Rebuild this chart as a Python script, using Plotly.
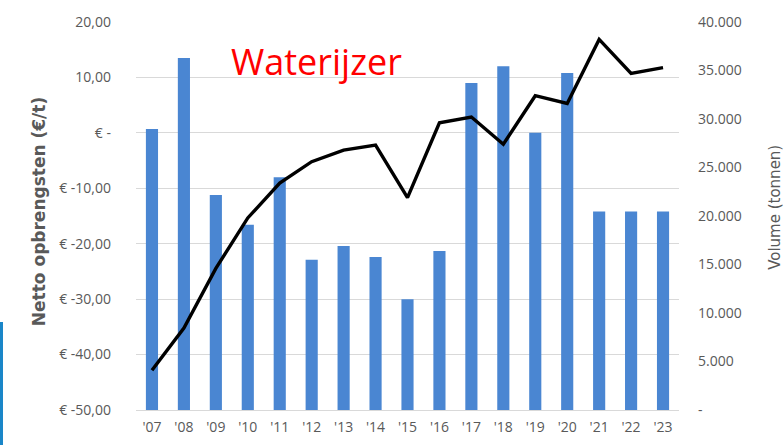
import plotly.graph_objects as go

years = ["'07", "'08", "'09", "'10", "'11", "'12", "'13", "'14", "'15", "'16",
         "'17", "'18", "'19", "'20", "'21", "'22", "'23"]
netto = [0.7, 13.5, -11.2, -16.6, -8.0, -22.9, -20.4, -22.4, -30.0, -21.3,
         9.0, 12.0, 0.0, 10.8, -14.2, -14.2, -14.2]
volume = [4100, 8450, 14600, 19800, 23400, 25600, 26800, 27300, 21900, 29600,
          30200, 27400, 32400, 31600, 38200, 34700, 35300]

left_ticks = [-50, -40, -30, -20, -10, 0, 10, 20]
left_text = ["€ -50,00", "€ -40,00", "€ -30,00", "€ -20,00", "€ -10,00", "€ -", "10,00", "20,00"]
right_ticks = [0, 5000, 10000, 15000, 20000, 25000, 30000, 35000, 40000]
right_text = ["-", "5.000", "10.000", "15.000", "20.000", "25.000", "30.000", "35.000", "40.000"]

base_val = left_ticks[0]
fig = go.Figure()
fig.add_trace(go.Bar(
    x=years, y=[v - base_val for v in netto], base=base_val,
    marker=dict(color="#4a86d2", line=dict(width=0)),
    name="Netto opbrengsten", customdata=netto,
    hovertemplate="%{x}: %{customdata}<extra></extra>",
))
fig.add_trace(go.Scatter(
    x=years, y=volume, yaxis="y2", mode="lines",
    line=dict(color="#000000", width=3.4), name="Volume",
))

tick_font = dict(family="Open Sans, sans-serif", size=14, color="#595959")
fig.update_layout(
    width=784, height=445,
    margin=dict(l=136, r=105, t=22, b=35),
    paper_bgcolor="white", plot_bgcolor="white",
    showlegend=False, bargap=0.62,
    xaxis=dict(showgrid=False, showline=True, linecolor="#d9d9d9", linewidth=1,
               tickfont=tick_font, ticks="", ticklabelstandoff=4, automargin=False),
    yaxis=dict(range=[-50, 20], tickvals=left_ticks, ticktext=left_text,
               showgrid=True, gridcolor="#d9d9d9", gridwidth=1, zeroline=False,
               tickfont=tick_font, ticklabelstandoff=24, automargin=False),
    yaxis2=dict(range=[0, 40000], overlaying="y", side="right",
                tickvals=right_ticks, ticktext=right_text, automargin=False,
                showgrid=False, zeroline=False, tickfont=tick_font, ticklabelstandoff=18),
    annotations=[
        dict(text="Waterijzer", xref="paper", yref="paper", x=0.333, y=0.897,
             showarrow=False, xanchor="center", yanchor="middle",
             font=dict(family="Open Sans, sans-serif", size=36, color="#ff0000")),
        dict(text="<b>Netto opbrengsten (€/t)</b>", xref="paper", yref="paper", x=-0.1786, y=0.51,
             textangle=-90, showarrow=False, xanchor="center", yanchor="middle",
             font=dict(family="DejaVu Sans, sans-serif", size=17, color="#595959")),
        dict(text="Volume (tonnen)", xref="paper", yref="paper", x=1.1768, y=0.521,
             textangle=-90, showarrow=False, xanchor="center", yanchor="middle",
             font=dict(family="DejaVu Sans, sans-serif", size=15, color="#595959")),
    ],
    shapes=[dict(type="rect", xref="paper", yref="paper", xsizemode="pixel", ysizemode="pixel",
                 xanchor=0, yanchor=0, x0=-136, x1=-133, y0=-35, y1=88,
                 fillcolor="#1a86c8", line=dict(width=0), layer="above")],
)
fig.write_html("out.html", config={"displayModeBar": False},
               post_script="document.body.style.margin='0';document.body.style.padding='0';")
